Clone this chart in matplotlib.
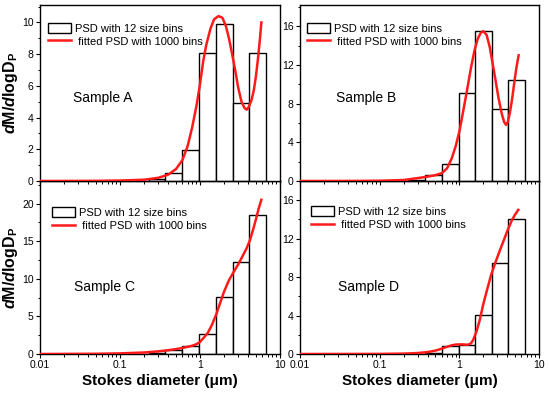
import matplotlib
matplotlib.use("Agg")
import matplotlib.pyplot as plt
import numpy as np
from matplotlib.ticker import FixedLocator, FixedFormatter, LogLocator, NullFormatter, MultipleLocator

plt.rcParams["font.family"] = ["Liberation Sans", "DejaVu Sans"]
plt.rcParams["mathtext.fontset"] = "custom"
plt.rcParams["mathtext.rm"] = "Liberation Sans:bold"
plt.rcParams["mathtext.it"] = "Liberation Sans:italic:bold"
plt.rcParams["mathtext.bf"] = "Liberation Sans:bold"

# ── Data ─────────────────────────────────────────────────────────────────────
bin_edges = [0.021, 0.034, 0.055, 0.088, 0.14, 0.23, 0.37, 0.6, 0.98, 1.57, 2.55, 4.1, 6.6]

psd_a = [0, 0, 0, 0.01, 0.03, 0.10, 0.48, 1.95, 8.05, 9.9, 4.95, 8.1]
psd_b = [0, 0, 0, 0.01, 0.05, 0.15, 0.62, 1.75, 9.1, 15.5, 7.4, 10.4]
psd_c = [0, 0, 0, 0.01, 0.04, 0.18, 0.55, 1.0, 2.7, 7.6, 12.2, 18.5]
psd_d = [0, 0, 0, 0, 0.02, 0.05, 0.15, 0.85, 0.95, 4.1, 9.5, 14.0]

fit_a_x = [0.01, 0.05, 0.1, 0.2, 0.3, 0.4, 0.5, 0.6, 0.7, 0.8, 0.9, 1.0, 1.1, 1.2, 1.35,
           1.5, 1.7, 1.9, 2.1, 2.3, 2.5, 2.75, 3.0, 3.3, 3.6, 3.85, 4.1, 4.4, 4.7, 5.0,
           5.3, 5.6, 5.85]
fit_a_y = [0, 0.01, 0.03, 0.08, 0.2, 0.4, 0.75, 1.3, 2.2, 3.4, 4.7, 6.1, 7.6, 8.6, 9.6,
           10.2, 10.4, 10.3, 9.8, 9.0, 8.1, 7.0, 5.9, 5.0, 4.6, 4.5, 4.7, 5.1, 5.7, 6.6,
           7.7, 8.9, 10.0]

fit_b_x = [0.01, 0.05, 0.1, 0.2, 0.3, 0.4, 0.5, 0.6, 0.7, 0.8, 0.9, 1.0, 1.1, 1.25, 1.4,
           1.55, 1.7, 1.85, 2.0, 2.2, 2.4, 2.6, 2.85, 3.1, 3.4, 3.65, 3.85, 4.05, 4.3,
           4.6, 4.9, 5.2, 5.55]
fit_b_y = [0, 0.01, 0.03, 0.1, 0.3, 0.45, 0.6, 0.8, 1.3, 2.3, 3.6, 5.1, 6.9, 9.4, 11.7,
           13.5, 14.7, 15.3, 15.5, 15.1, 13.9, 12.3, 10.4, 8.6, 7.0, 6.1, 5.8, 6.1, 7.0,
           8.5, 10.2, 11.7, 13.0]

fit_c_x = [0.01, 0.05, 0.1, 0.2, 0.3, 0.4, 0.5, 0.6, 0.7, 0.8, 0.9, 1.0, 1.1, 1.25, 1.4,
           1.6, 1.8, 2.0, 2.3, 2.6, 3.0, 3.4, 3.8, 4.2, 4.6, 5.0, 5.4, 5.85]
fit_c_y = [0, 0.03, 0.08, 0.2, 0.35, 0.5, 0.65, 0.8, 0.95, 1.1, 1.3, 1.6, 2.1, 2.8, 3.8,
           5.3, 6.9, 8.3, 9.8, 10.8, 11.9, 13.0, 14.0, 15.1, 16.5, 17.9, 19.3, 20.5]

fit_d_x = [0.01, 0.1, 0.2, 0.3, 0.4, 0.5, 0.6, 0.7, 0.8, 0.9, 1.0, 1.1, 1.2, 1.3, 1.4,
           1.5, 1.65, 1.8, 2.0, 2.2, 2.5, 2.8, 3.2, 3.6, 4.0, 4.5, 5.0, 5.5]
fit_d_y = [0, 0.01, 0.04, 0.1, 0.2, 0.35, 0.55, 0.75, 0.9, 0.98, 1.0, 1.0, 0.97, 0.98,
           1.1, 1.5, 2.4, 3.5, 5.2, 6.5, 8.2, 9.4, 10.7, 11.8, 12.8, 13.8, 14.5, 15.0]

sample_names = ["Sample A", "Sample B", "Sample C", "Sample D"]
x_ticks = [0.01, 0.1, 1, 10]
x_tick_labels = ["0.01", "0.1", "1", "10"]

# ── Layout (pixels of a 550x394 canvas) ──────────────────────────────────────
W, H = 550, 394
panels = [
    dict(box=(40, 5, 280, 181), ylim=11.1, step=2, leg=(0.032, 0.90), txt=(0.26, 0.47)),
    dict(box=(300, 5, 539, 181), ylim=18.2, step=4, leg=(0.028, 0.90), txt=(0.276, 0.47)),
    dict(box=(40, 181, 280, 354), ylim=23.0, step=5, leg=(0.049, 0.85), txt=(0.267, 0.39)),
    dict(box=(300, 181, 539, 354), ylim=18.0, step=4, leg=(0.045, 0.855), txt=(0.285, 0.39)),
]
psds = [psd_a, psd_b, psd_c, psd_d]
fits = [(fit_a_x, fit_a_y), (fit_b_x, fit_b_y), (fit_c_x, fit_c_y), (fit_d_x, fit_d_y)]

fig = plt.figure(figsize=(W / 100, H / 100), dpi=100)
fig.patch.set_facecolor("white")

edges = np.array(bin_edges)
widths = np.diff(edges)

for i, p in enumerate(panels):
    l, t, r, b = p["box"]
    ax = fig.add_axes([l / W, 1 - b / H, (r - l) / W, (b - t) / H])
    ax.set_zorder(4 - i)

    bars = ax.bar(edges[:-1], psds[i], width=widths, align="edge",
                  facecolor="white", edgecolor="black", linewidth=1.0, zorder=2)
    line, = ax.plot(fits[i][0], fits[i][1], color="#ff1a1a", lw=1.8, zorder=3)

    ax.set_xscale("log")
    ax.set_xlim(0.01, 10)
    ax.set_ylim(0, p["ylim"])

    ax.xaxis.set_major_locator(FixedLocator(x_ticks))
    ax.xaxis.set_minor_locator(LogLocator(base=10, subs=np.arange(2, 10), numticks=10))
    ax.xaxis.set_minor_formatter(NullFormatter())
    if i >= 2:
        ax.xaxis.set_major_formatter(FixedFormatter(x_tick_labels))
    else:
        ax.xaxis.set_major_formatter(NullFormatter())

    ax.yaxis.set_major_locator(MultipleLocator(p["step"]))
    ax.yaxis.set_minor_locator(MultipleLocator(p["step"] / 2))

    ax.tick_params(which="major", direction="out", length=3, width=0.8,
                   labelsize=7.5, pad=1.5, top=False, right=False)
    ax.tick_params(which="minor", direction="out", length=1.8, width=0.7,
                   top=False, right=False)
    for s in ax.spines.values():
        s.set_linewidth(1.0)

    ax.text(p["txt"][0], p["txt"][1], sample_names[i], transform=ax.transAxes,
            ha="center", va="center", fontsize=10)

    ax.legend([bars, line], ["PSD with 12 size bins", " fitted PSD with 1000 bins"],
              loc="upper left", bbox_to_anchor=p["leg"], frameon=False,
              fontsize=8, borderpad=0, borderaxespad=0, handlelength=2.1,
              handleheight=1.05, handletextpad=0.35, labelspacing=0.2)

    if i % 2 == 0:
        ax.set_ylabel(r"$\mathit{d}\mathrm{M/}\mathit{d}\mathrm{logD}_\mathrm{P}$",
                      fontsize=11.5, ha="center", va="center")
        ax.yaxis.set_label_coords(-30 / (r - l), 0.5)
    if i >= 2:
        ax.set_xlabel("Stokes diameter (μm)", fontsize=11, fontweight="bold", labelpad=3)

fig.savefig("out.png", dpi=100, facecolor="white")
